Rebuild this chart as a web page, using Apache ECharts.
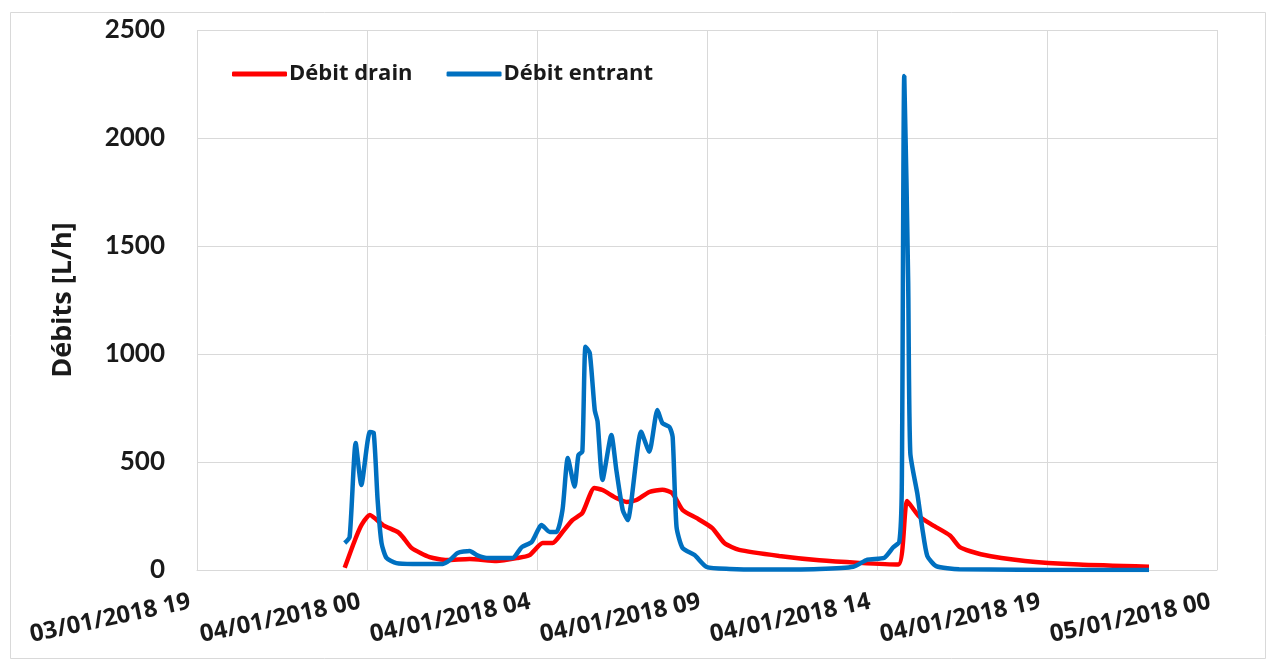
<!DOCTYPE html>
<html>
<head>
<meta charset="utf-8">
<script src="https://cdn.jsdelivr.net/npm/echarts@6/dist/echarts.min.js"></script>
<style>
html,body{margin:0;padding:0;background:#fff;}
#chart{width:1266px;height:666px;}
</style>
</head>
<body>
<div id="chart"></div>
<script>
// Time in hours since 04/01/2018 00:00
const drainHours = [-0.63,-0.34,-0.15,0.08,0.45,0.87,1.01,1.26,1.77,2.25,2.90,3.66,4.23,4.59,4.96,5.24,5.52,5.80,6.08,6.42,6.65,7.04,7.33,7.61,7.97,8.34,8.62,8.91,9.30,9.75,10.09,10.51,11.64,12.77,13.90,15.00,15.25,15.59,15.97,16.46,16.75,17.33,18.58,20.10,22.08];
const drainValues = [10,139,210,255,208,176,153,102,60,46,51,42,55,69,125,125,176,231,264,380,370,333,315,324,361,372,356,278,241,194,125,93,65,45,33,25,319,248,208,160,105,73,42,25,15];

const inflowHours = [-0.63,-0.49,-0.32,-0.16,0.08,0.19,0.30,0.41,0.55,0.83,1.29,2.14,2.34,2.56,2.90,3.10,3.38,4.11,4.37,4.65,4.93,5.16,5.35,5.52,5.67,5.86,5.97,6.08,6.17,6.29,6.43,6.51,6.65,6.90,7.04,7.22,7.36,7.74,7.97,8.20,8.34,8.54,8.63,8.74,8.91,9.25,9.59,10.24,11.08,12.77,13.73,14.13,14.61,14.86,15.03,15.10,15.17,15.28,15.34,15.54,15.68,15.82,16.07,16.72,22.08];
const inflowValues = [125,153,588,394,639,634,324,125,56,32,28,28,46,79,88,69,56,56,106,130,208,176,176,278,518,386,532,548,1034,1004,741,687,417,625,463,278,231,640,548,741,680,662,616,199,102,69,14,5,2,5,15,48,57,105,130,384,2287,1338,542,352,192,65,18,3,0];

const seriesNames = ['Débit drain','Débit entrant'];
const yAxisName = 'Débits [L/h]';
const xMin = -4.8, xMax = 24, xStep = 4.8;

function pair(h, v){ return h.map((x,i)=>[x, v[i]]); }
function pad(n){ return (n<10?'0':'')+n; }
function fmtTick(h){
  const totalMin = Math.round(h*60);
  const dayOff = Math.floor(totalMin/1440);
  const minOfDay = totalMin - dayOff*1440;
  const hour = Math.floor(minOfDay/60);
  const day = 4 + dayOff;
  return pad(day) + '/01/2018 ' + pad(hour);
}

const chart = echarts.init(document.getElementById('chart'));
const font = '"Open Sans", Lato, sans-serif';
const numFont = 'Lato, "Open Sans", sans-serif';
chart.setOption({
  backgroundColor: '#fff',
  animation: false,
  graphic: [{
    type: 'rect', left: 8, top: 10,
    shape: {width: 1255, height: 646},
    style: {fill: 'none', stroke: '#d9d9d9', lineWidth: 1}
  }],
  grid: {left: 197, right: 49, top: 30, bottom: 96},
  legend: {
    left: 227, top: 58,
    icon: 'roundRect', itemWidth: 55, itemHeight: 5, itemGap: 34,
    textStyle: {fontFamily: font, fontWeight: 'bold', fontSize: 22, color: '#1a1a1a', padding: [0,0,0,-3]},
    data: seriesNames
  },
  xAxis: {
    type: 'value', min: xMin, max: xMax, interval: xStep,
    axisLine: {show: true, lineStyle: {color: '#d9d9d9', width: 1}},
    axisTick: {show: false},
    splitLine: {show: true, lineStyle: {color: '#d9d9d9', width: 1}},
    axisLabel: {
      formatter: fmtTick, rotate: 12, margin: 30, padding: [0, 7, 0, 0],
      fontFamily: font, fontWeight: 'bold', fontSize: 24, color: '#1a1a1a'
    }
  },
  yAxis: {
    type: 'value', min: 0, max: 2500, interval: 500,
    name: yAxisName, nameLocation: 'middle', nameGap: 120, nameRotate: 90,
    nameTextStyle: {fontFamily: font, fontWeight: 'bold', fontSize: 27, color: '#1a1a1a'},
    axisLine: {show: false},
    axisTick: {show: false},
    splitLine: {show: true, lineStyle: {color: '#d9d9d9', width: 1}},
    axisLabel: {formatter: v => String(v), fontFamily: numFont, fontWeight: 'bold', fontSize: 26, color: '#1a1a1a', margin: 32}
  },
  series: [
    {
      name: seriesNames[0], type: 'line', data: pair(drainHours, drainValues),
      symbol: 'none', smooth: 0.2,
      lineStyle: {color: '#ff0000', width: 4.5}, itemStyle: {color: '#ff0000'}
    },
    {
      name: seriesNames[1], type: 'line', data: pair(inflowHours, inflowValues),
      symbol: 'none', smooth: 0.2,
      lineStyle: {color: '#0070c0', width: 4.5}, itemStyle: {color: '#0070c0'}
    }
  ]
});
</script>
</body>
</html>
